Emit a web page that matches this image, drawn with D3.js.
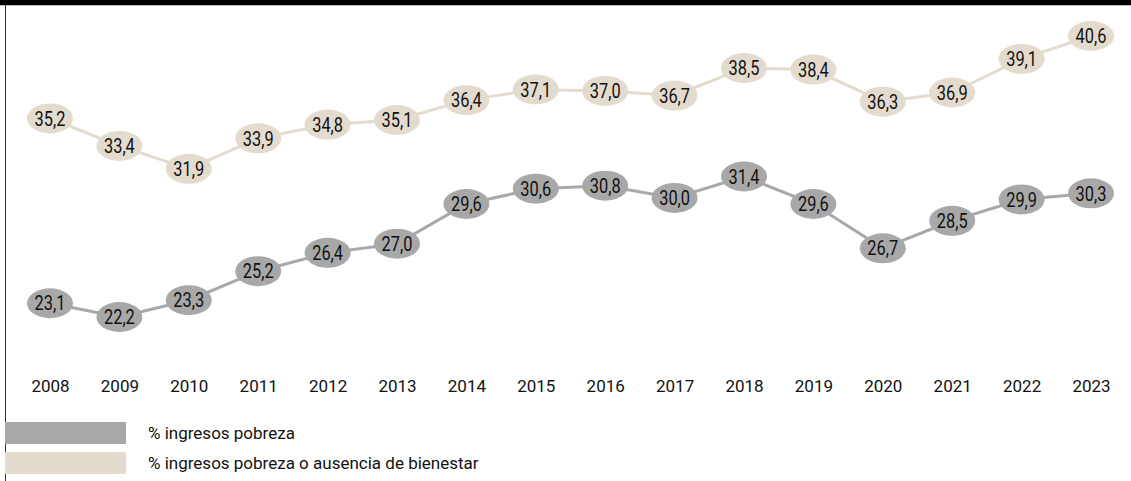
<!DOCTYPE html>
<html>
<head>
<meta charset="utf-8">
<script src="https://cdn.jsdelivr.net/npm/d3@7"></script>
<style>
  html, body { margin: 0; padding: 0; background: #fff; }
  svg { display: block; }
  .lbl { font-family: "Roboto", "Liberation Sans", sans-serif; font-size: 20px; font-weight: 400; fill: #111; }
  .yr, .leg { font-family: "Roboto", "Noto Sans", sans-serif; font-size: 17px; fill: #111; }
</style>
</head>
<body>
<svg id="chart" width="1131" height="481"></svg>
<script>
const years = ["2008","2009","2010","2011","2012","2013","2014","2015","2016","2017","2018","2019","2020","2021","2022","2023"];
const pobreza = [23.1, 22.2, 23.3, 25.2, 26.4, 27.0, 29.6, 30.6, 30.8, 30.0, 31.4, 29.6, 26.7, 28.5, 29.9, 30.3];
const bienestar = [35.2, 33.4, 31.9, 33.9, 34.8, 35.1, 36.4, 37.1, 37.0, 36.7, 38.5, 38.4, 36.3, 36.9, 39.1, 40.6];
const seriesNames = ["% ingresos pobreza", "% ingresos pobreza o ausencia de bienestar"];
const colors = ["#a8a8a8", "#e3dbcd"];

const svg = d3.select("#chart");
const W = 1131, H = 481;

// frame
svg.append("rect").attr("x", 0).attr("y", 0).attr("width", W).attr("height", 5).attr("fill", "#000");
svg.append("line").attr("x1", 0).attr("x2", W).attr("y1", 5.5).attr("y2", 5.5).attr("stroke", "#bbb").attr("stroke-width", 1);
svg.append("line").attr("x1", 5.5).attr("x2", 5.5).attr("y1", 5).attr("y2", H).attr("stroke", "#333").attr("stroke-width", 1);

const x = d3.scalePoint().domain(years).range([50, 1091]);
const y = d3.scaleLinear().domain([22.2, 40.6]).range([317, 36]);

const fmt = v => d3.format(".1f")(v).replace(".", ",");

const line = d3.line().x((d, i) => x(years[i])).y(d => y(d));

[bienestar, pobreza].forEach((data, k) => {
  const col = k === 0 ? colors[1] : colors[0];
  const g = svg.append("g");
  g.append("path").datum(data).attr("d", line).attr("fill", "none").attr("stroke", col).attr("stroke-width", 3);
  const pts = g.selectAll("g.pt").data(data).join("g").attr("class", "pt")
    .attr("transform", (d, i) => `translate(${x(years[i])},${y(d)})`);
  pts.append("ellipse").attr("rx", 23).attr("ry", 15).attr("fill", col);
  pts.append("text").attr("class", "lbl").attr("text-anchor", "middle").attr("dy", "0.36em")
    .attr("transform", "scale(0.82,1)").text(d => fmt(d));
});

// x axis labels
const xAxis = d3.axisBottom(x).tickSize(0).tickPadding(0);
const ax = svg.append("g").attr("transform", "translate(0,380)").call(xAxis);
ax.select(".domain").remove();
ax.selectAll("text").attr("class", "yr").attr("fill", "#111").attr("font-size", null).attr("font-family", null);

// legend
const leg = svg.append("g");
seriesNames.forEach((name, i) => {
  const yy = 422 + i * 30;
  leg.append("rect").attr("x", 5).attr("y", yy).attr("width", 121).attr("height", 22).attr("fill", colors[i]);
  leg.append("text").attr("class", "leg").attr("x", 148).attr("y", yy + 11).attr("dy", "0.35em").text(name);
});
</script>
</body>
</html>
